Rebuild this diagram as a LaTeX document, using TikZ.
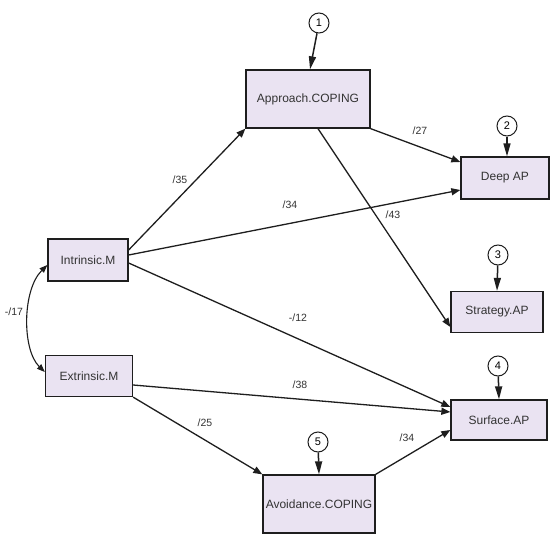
\documentclass[tikz,border=0pt]{standalone}
\usepackage{fontspec}
\setmainfont{Liberation Sans}
\usetikzlibrary{arrows.meta}
\definecolor{boxfill}{HTML}{EAE3F2}
\definecolor{edge}{HTML}{1E1E1E}
\begin{document}
\begin{tikzpicture}[x=1pt,y=-1pt,
  var/.style={draw=edge,line width=1.3pt,fill=boxfill,inner sep=0pt,font=\fontsize{12}{14}\selectfont,text=black!80},
  err/.style={draw=edge,circle,line width=1pt,fill=white,minimum size=20pt,inner sep=0pt,font=\fontsize{11}{12}\selectfont},
  path/.style={draw=edge,line width=1.3pt,-{Triangle[length=9pt,width=7pt]}},
  pin/.style={draw=edge,line width=1.5pt,-{Triangle[length=13pt,width=7pt]}},
  lab/.style={font=\fontsize{10.5}{12}\selectfont,text=black!80}]
\useasboundingbox (0,0) rectangle (552,535);
\fill[white] (0,0) rectangle (552,535);
% observed variables
\node[var,minimum width=124pt,minimum height=58pt] (app) at (308,99) {Approach.COPING};
\node[var,minimum width=88pt,minimum height=42pt] (deep) at (505,178) {Deep AP};
\node[var,minimum width=92pt,minimum height=41pt] (strat) at (497,312) {Strategy.AP};
\node[var,minimum width=96pt,minimum height=40pt] (surf) at (499,420) {Surface.AP};
\node[var,minimum width=80pt,minimum height=42pt] (intr) at (88,260) {Intrinsic.M};
\node[var,minimum width=87pt,minimum height=41pt] (extr) at (89,376) {Extrinsic.M};
\node[var,minimum width=112pt,minimum height=58pt] (avoid) at (319,504) {Avoidance.COPING};
% error terms
\node[err] (e1) at (319,23) {1};
\node[err] (e2) at (507,126) {2};
\node[err] (e3) at (498,255) {3};
\node[err] (e4) at (498,366) {4};
\node[err] (e5) at (318,442) {5};
\draw[pin] (e1) -- ([xshift=2pt]app.north);
\draw[pin] (e2) -- ([xshift=2pt]deep.north);
\draw[pin] (e3) -- (strat.north);
\draw[pin] (e4) -- (surf.north);
\draw[pin] (e5) -- (avoid.north);
% paths
\draw[path] ([yshift=10pt]intr.east) -- (app.south west);
\draw[path] ([yshift=5pt]intr.east) -- ([yshift=-12pt]deep.west);
\draw[path] ([yshift=-3pt]intr.east) -- ([yshift=13pt]surf.west);
\draw[path] (app.south east) -- ([yshift=16pt]deep.west);
\draw[path] ([xshift=10pt]app.south) -- ([yshift=-15pt]strat.west);
\draw[path] ([yshift=-9pt]extr.east) -- ([yshift=8pt]surf.west);
\draw[path] (extr.south east) -- (avoid.north west);
\draw[path] (avoid.north east) -- ([yshift=-10pt]surf.west);
\draw[draw=edge,line width=1.1pt,{Triangle[length=8pt,width=6pt]}-{Triangle[length=8pt,width=6pt]}]
  ([yshift=-5pt]intr.west) .. controls (22,290) and (22,350) .. ([yshift=4pt]extr.west);
% coefficients
\node[lab] (l35) at (180,180) {/35};
\node[lab] (l34a) at (290,205) {/34};
\node[lab] (l12) at (298,318) {-/12};
\node[lab] (l27) at (420,131) {/27};
\node[lab] (l43) at (393,215) {/43};
\node[lab] (l38) at (300,385) {/38};
\node[lab] (l25) at (205,423) {/25};
\node[lab] (l34b) at (407,438) {/34};
\node[lab] (l17) at (14,312) {-/17};
\end{tikzpicture}
\end{document}
